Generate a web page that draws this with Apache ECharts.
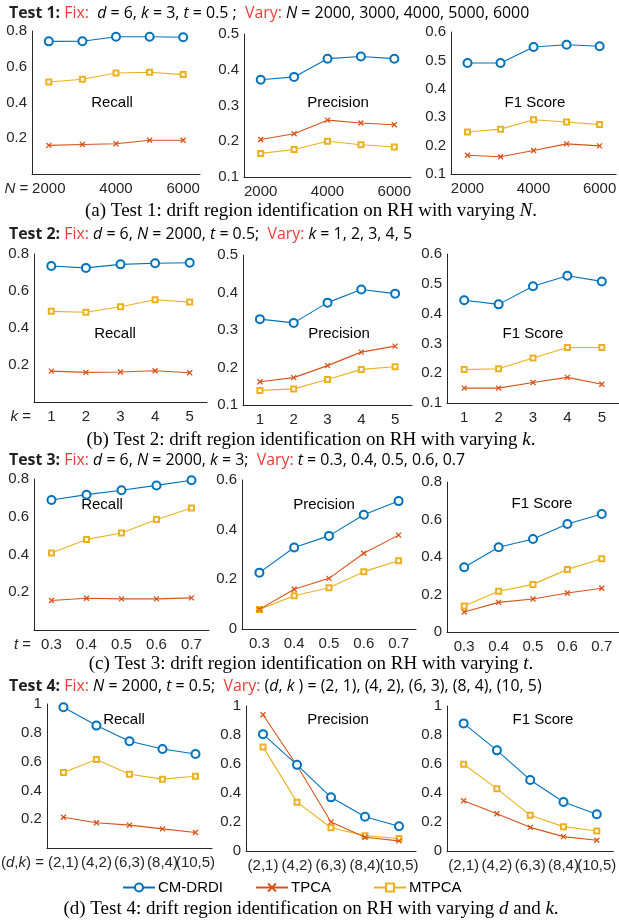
<!DOCTYPE html>
<html><head><meta charset="utf-8">
<script src="https://cdn.jsdelivr.net/npm/echarts@6/dist/echarts.min.js"></script>
<style>html,body{margin:0;padding:0;background:#fff}#c{width:619px;height:922px}</style>
</head><body><div id="c"></div>
<script>
// ---------- DATA ----------
const methods = ['CM-DRDI', 'TPCA', 'MTPCA'];
const catN  = ['2000', '3000', '4000', '5000', '6000'];
const catK  = ['1', '2', '3', '4', '5'];
const catT  = ['0.3', '0.4', '0.5', '0.6', '0.7'];
const catDK = ['(2,1)', '(4,2)', '(6,3)', '(8,4)', '(10,5)'];

// Test 1 (vary N)
const t1RecallCM = [0.742, 0.743, 0.768, 0.768, 0.765];
const t1RecallTP = [0.160, 0.165, 0.169, 0.189, 0.189];
const t1RecallMT = [0.515, 0.530, 0.565, 0.569, 0.556];
const t1PrecCM = [0.372, 0.380, 0.431, 0.437, 0.431];
const t1PrecTP = [0.205, 0.221, 0.259, 0.251, 0.246];
const t1PrecMT = [0.166, 0.177, 0.200, 0.190, 0.184];
const t1F1CM = [0.491, 0.491, 0.547, 0.555, 0.550];
const t1F1TP = [0.166, 0.161, 0.183, 0.206, 0.199];
const t1F1MT = [0.248, 0.258, 0.291, 0.283, 0.274];

// Test 2 (vary k)
const t2RecallCM = [0.735, 0.725, 0.744, 0.750, 0.753];
const t2RecallTP = [0.167, 0.160, 0.162, 0.169, 0.158];
const t2RecallMT = [0.490, 0.485, 0.515, 0.553, 0.540];
const t2PrecCM = [0.329, 0.319, 0.373, 0.408, 0.397];
const t2PrecTP = [0.162, 0.173, 0.205, 0.241, 0.257];
const t2PrecMT = [0.139, 0.143, 0.168, 0.195, 0.202];
const t2F1CM = [0.445, 0.431, 0.492, 0.527, 0.508];
const t2F1TP = [0.150, 0.150, 0.169, 0.186, 0.163];
const t2F1MT = [0.212, 0.215, 0.251, 0.286, 0.286];

// Test 3 (vary t)
const t3RecallCM = [0.689, 0.717, 0.740, 0.766, 0.793];
const t3RecallTP = [0.156, 0.168, 0.165, 0.165, 0.170];
const t3RecallMT = [0.408, 0.480, 0.514, 0.585, 0.646];
const t3PrecCM = [0.227, 0.328, 0.375, 0.460, 0.515];
const t3PrecTP = [0.079, 0.160, 0.204, 0.305, 0.378];
const t3PrecMT = [0.079, 0.134, 0.166, 0.231, 0.275];
const t3F1CM = [0.345, 0.452, 0.496, 0.576, 0.629];
const t3F1TP = [0.107, 0.158, 0.176, 0.208, 0.233];
const t3F1MT = [0.139, 0.217, 0.254, 0.334, 0.391];

// Test 4 (vary d,k)
const t4RecallCM = [0.977, 0.850, 0.741, 0.688, 0.653];
const t4RecallTP = [0.214, 0.175, 0.159, 0.133, 0.108];
const t4RecallMT = [0.524, 0.614, 0.512, 0.478, 0.498];
const t4PrecCM = [0.806, 0.594, 0.370, 0.236, 0.171];
const t4PrecTP = [0.940, 0.590, 0.200, 0.095, 0.070];
const t4PrecMT = [0.718, 0.337, 0.160, 0.106, 0.086];
const t4F1CM = [0.880, 0.694, 0.490, 0.338, 0.253];
const t4F1TP = [0.347, 0.257, 0.163, 0.099, 0.074];
const t4F1MT = [0.598, 0.430, 0.246, 0.168, 0.138];

// ---------- STYLE / LAYOUT ----------
const COLORS = ['#0072BD', '#D95319', '#EDB120'];
const SYMBOLS = ['emptyCircle', 'path://M0,0L10,10M10,0L0,10', 'emptyRect'];
const SYMSIZE = [8, 5, 5];
const AX = '#262626';
const SANS = 'Liberation Sans, Arial, sans-serif';
const FS = 15;

const panels = [
  // row 1
  {g:[32,31,168,143], cats:catN, d:[t1RecallCM,t1RecallTP,t1RecallMT], y:[0,0.8,0.2], hideMin:true, li:1, title:'Recall', tp:[112,103], xname:'{i|N} ='},
  {g:[244,34,167,143], cats:catN, d:[t1PrecCM,t1PrecTP,t1PrecMT], y:[0.1,0.5,0.1], li:1, title:'Precision', tp:[338,103]},
  {g:[451,32,168,142], cats:catN, d:[t1F1CM,t1F1TP,t1F1MT], y:[0.1,0.6,0.1], li:1, title:'F1 Score', tp:[535,103]},
  // row 2
  {g:[34,254,173,148], cats:catK, d:[t2RecallCM,t2RecallTP,t2RecallMT], y:[0,0.8,0.2], hideMin:true, li:0, title:'Recall', tp:[115,334], xname:'{i|k} ='},
  {g:[243,255,169,150], cats:catK, d:[t2PrecCM,t2PrecTP,t2PrecMT], y:[0.1,0.5,0.1], li:0, title:'Precision', tp:[339,334]},
  {g:[447,254,172,149], cats:catK, d:[t2F1CM,t2F1TP,t2F1MT], y:[0.1,0.6,0.1], li:0, title:'F1 Score', tp:[533,334]},
  // row 3
  {g:[34,479,175,151], cats:catT, d:[t3RecallCM,t3RecallTP,t3RecallMT], y:[0,0.8,0.2], hideMin:true, li:0, title:'Recall', tp:[102,505], xname:'{i|t} ='},
  {g:[242,480,174,149], cats:catT, d:[t3PrecCM,t3PrecTP,t3PrecMT], y:[0,0.6,0.2], li:0, title:'Precision', tp:[324,505]},
  {g:[447,482,172,150], cats:catT, d:[t3F1CM,t3F1TP,t3F1MT], y:[0,0.8,0.2], li:0, title:'F1 Score', tp:[542,504]},
  // row 4
  {g:[43,704,169,144], cats:catDK, d:[t4RecallCM,t4RecallTP,t4RecallMT], y:[0,1,0.2], hideMin:true, li:0, title:'Recall', tp:[124,720], xname:'({i|d},{i|k}) ='},
  {g:[246,706,170,145], cats:catDK, d:[t4PrecCM,t4PrecTP,t4PrecMT], y:[0,1,0.2], li:0, title:'Precision', tp:[338,720]},
  {g:[447,706,170,145], cats:catDK, d:[t4F1CM,t4F1TP,t4F1MT], y:[0,1,0.2], li:0, title:'F1 Score', tp:[543,720]}
];

const grid = [], xAxis = [], yAxis = [], series = [], graphic = [];
panels.forEach((p, i) => {
  grid.push({left:p.g[0], top:p.g[1], width:p.g[2], height:p.g[3], containLabel:false});
  const xa = {
    type:'category', gridIndex:i, data:p.cats, boundaryGap:true,
    axisLine:{show:true, lineStyle:{color:AX, width:1}},
    axisTick:{show:false},
    axisLabel:{interval:p.li, color:AX, fontSize:FS, fontFamily:SANS, margin:7}
  };
  if (p.xname) {
    xa.name = p.xname; xa.nameLocation = 'start'; xa.nameGap = 3;
    xa.nameTextStyle = {color:AX, fontSize:FS, fontFamily:SANS, verticalAlign:'top', padding:[7,0,0,0],
      rich:{i:{fontStyle:'italic', fontSize:FS, fontFamily:SANS, color:AX}}};
  }
  xAxis.push(xa);
  yAxis.push({
    type:'value', gridIndex:i, min:p.y[0], max:p.y[1], interval:p.y[2],
    axisLine:{show:true, lineStyle:{color:AX, width:1}},
    axisTick:{show:false}, splitLine:{show:false},
    axisLabel:{color:AX, fontSize:FS, fontFamily:SANS, margin:5, showMinLabel:!p.hideMin,
      formatter:v => String(+v.toFixed(1))}
  });
  p.d.forEach((arr, j) => {
    series.push({
      name:methods[j], type:'line', xAxisIndex:i, yAxisIndex:i, data:arr,
      symbol:SYMBOLS[j], symbolSize:SYMSIZE[j], showAllSymbol:true,
      lineStyle:{color:COLORS[j], width:1.1},
      itemStyle:{color:COLORS[j], borderColor:COLORS[j], borderWidth: j===1 ? 1.3 : 1.1},
      z: 3 - j
    });
  });
  graphic.push({type:'text', x:p.tp[0], y:p.tp[1], style:{text:p.title, fill:'#000', font:'15px ' + SANS, align:'center', verticalAlign:'middle'}});
});

// text measuring helper (to fit header/caption sizes to the reference widths)
const ctx = document.createElement('canvas').getContext('2d');
function segWidth(segs, size, fam, styles) {
  let w = 0;
  segs.forEach(s => { ctx.font = styles[s[0]] + ' ' + size + 'px ' + fam; w += ctx.measureText(s[1]).width; });
  return w;
}
const toRich = segs => segs.map(s => '{' + s[0] + '|' + s[1] + '}').join('');

// headers
const HF = '"Open Sans", Lato, sans-serif';
const hStyles = {b:'bold', r:'normal', i:'italic', n:'normal'};
const headers = [
  [[['b','Test 1:'],['n',' '],['r','Fix:'],['n','  '],['i','d'],['n',' = 6, '],['i','k'],['n',' = 3, '],['i','t'],['n',' = 0.5 ;  '],['r','Vary:'],['n',' '],['i','N'],['n',' = 2000, 3000, 4000, 5000, 6000']], 13],
  [[['b','Test 2:'],['n',' '],['r','Fix:'],['n',' '],['i','d'],['n',' = 6, '],['i','N'],['n',' = 2000, '],['i','t'],['n',' = 0.5;  '],['r','Vary:'],['n',' '],['i','k'],['n',' = 1, 2, 3, 4, 5']], 234],
  [[['b','Test 3:'],['n',' '],['r','Fix:'],['n',' '],['i','d'],['n',' = 6, '],['i','N'],['n',' = 2000, '],['i','k'],['n',' = 3;  '],['r','Vary:'],['n',' '],['i','t'],['n',' = 0.3, 0.4, 0.5, 0.6, 0.7']], 460],
  [[['b','Test 4:'],['n',' '],['r','Fix:'],['n',' '],['i','N'],['n',' = 2000, '],['i','t'],['n',' = 0.5;  '],['r','Vary:'],['n',' ('],['i','d'],['n',', '],['i','k'],['n',' ) = (2, 1), (4, 2), (6, 3), (8, 4), (10, 5)']], 686]
];
const HS = Math.round(455 / segWidth(headers[2][0], 10, HF, hStyles) * 10 * 10) / 10;
const hrich = {
  b:{fontWeight:'bold', fill:'#231f20', fontSize:HS, fontFamily:HF},
  r:{fill:'#ee3b36', fontSize:HS, fontFamily:HF},
  i:{fontStyle:'italic', fill:'#000', fontSize:HS, fontFamily:HF},
  n:{fill:'#000', fontSize:HS, fontFamily:HF}
};
headers.forEach(h => graphic.push({type:'text', x:9, y:h[1], style:{text:toRich(h[0]), rich:hrich, font:HS + 'px ' + HF, align:'left', verticalAlign:'middle'}}));

// captions
const SERIF = 'Liberation Serif, "Times New Roman", serif';
const cStyles = {n:'normal', i:'italic'};
const captions = [
  [[['n','(a) Test 1: drift region identification on RH with varying '],['i','N'],['n','.']], 211],
  [[['n','(b) Test 2: drift region identification on RH with varying '],['i','k'],['n','.']], 440],
  [[['n','(c) Test 3: drift region identification on RH with varying '],['i','t'],['n','.']], 664],
  [[['n','(d) Test 4: drift region identification on RH with varying '],['i','d'],['n',' and '],['i','k'],['n','.']], 909]
];
const CS = Math.round(445 / segWidth(captions[2][0], 10, SERIF, cStyles) * 10 * 10) / 10;
const crich = {n:{fontSize:CS, fontFamily:SERIF, fill:'#000'}, i:{fontSize:CS, fontFamily:SERIF, fontStyle:'italic', fill:'#000'}};
captions.forEach(c => graphic.push({type:'text', x:311, y:c[1], style:{text:toRich(c[0]), rich:crich, font:CS + 'px ' + SERIF, align:'center', verticalAlign:'middle'}}));

// legends
const legPos = [117, 250, 368];
const legend = methods.map((m, j) => ({
  data:[m], left:legPos[j], top:875, itemWidth:32, itemHeight:10, itemGap:4,
  textStyle:{fontSize:15, fontFamily:SANS, color:'#000', padding:[0,0,0,-2]}
}));

const chart = echarts.init(document.getElementById('c'), null, {renderer:'canvas'});
chart.setOption({animation:false, backgroundColor:'#fff', grid, xAxis, yAxis, series, graphic, legend});
</script></body></html>
